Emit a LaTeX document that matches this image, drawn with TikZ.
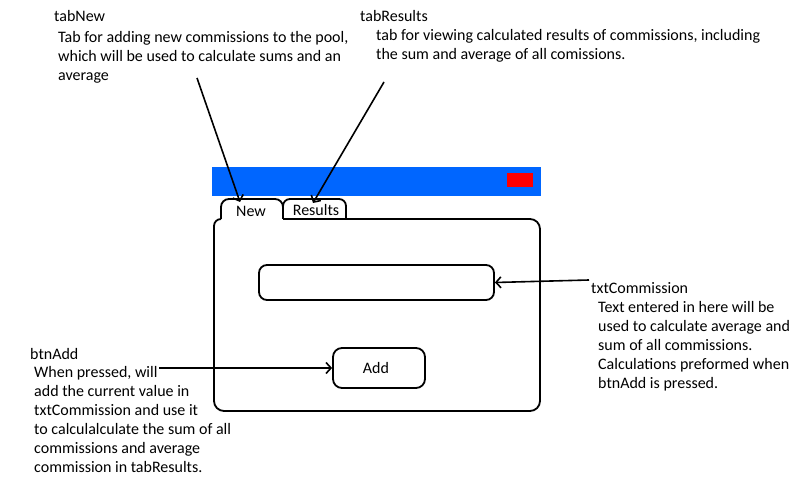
\documentclass[tikz,border=0pt]{standalone}
\usepackage{fontspec}
\setmainfont{Carlito}
\usetikzlibrary{arrows.meta}
\definecolor{barblue}{HTML}{0066FF}
\definecolor{barred}{HTML}{FF0000}
\tikzset{
  txt/.style={inner sep=0pt, align=left, font=\fontsize{16}{19}\selectfont},
  ttl/.style={txt, anchor=base west},
  desc/.style={txt, anchor=north west},
  frame/.style={draw=black, line width=1.8pt},
  pointer/.style={draw=black, line width=1.6pt, -{Straight Barb[length=5pt,width=11pt]}},
}
\begin{document}
\begin{tikzpicture}[x=1pt,y=-1pt]
\useasboundingbox (0,0) rectangle (800,486);
% window bar
\fill[barblue] (212,167) rectangle (541,196);
\fill[barred] (507,173) rectangle (533,187);
% panel
\draw[frame] (221,219) [rounded corners=7pt] -- (214,219) [rounded corners=10pt] -- (214,411) -- (540,411) -- (540,219) -- (283,219);
% active tab
\draw[frame] (221,219) [rounded corners=8pt] -- (221,199) -- (283,199) -- (283,219);
% inactive tab
\draw[frame] (283,219) [rounded corners=7pt] -- (283,199) -- (346,199) -- (346,219);
\node[txt, anchor=center] (tnew) at (251,211) {New};
\node[txt, anchor=center] (tres) at (316,210) {Results};
% text box and button
\node[frame, rounded corners=8pt, minimum width=235pt, minimum height=35pt, inner sep=0pt] (txtbox) at (376.5,282.5) {};
\node[frame, rounded corners=9pt, minimum width=92pt, minimum height=40pt, inner sep=0pt, font=\fontsize{16}{19}\selectfont] (addbtn) at (379,368) {Add\hspace*{6pt}};
% annotations
\node[ttl] (lnew) at (54,22) {tabNew};
\node[desc] (dnew) at (58,31.5) {Tab for adding new commissions to the pool,\\which will be used to calculate sums and an\\average};
\node[ttl] (lres) at (360,22) {tabResults};
\node[desc] (dres) at (376,29.5) {tab for viewing calculated results of commissions, including\\the sum and average of all comissions.};
\node[ttl] (ltxt) at (591,294) {txtCommission};
\node[desc] (dtxt) at (598,301) {Text entered in here will be\\used to calculate average and\\sum of all commissions.\\Calculations preformed when\\btnAdd is pressed.};
\node[ttl] (lbtn) at (30,359) {btnAdd};
\node[desc] (dbtn) at (34,366) {When pressed, will\\add the current value in\\txtCommission and use it\\to calculalculate the sum of all\\commissions and average\\commission in tabResults.};
% connector ends
\coordinate (snew) at (197,78);
\coordinate (enew) at (240,202);
\coordinate (sres) at (384,82);
\coordinate (eres) at (313,203);
\coordinate (stxt) at (589,280);
\coordinate (sbtn) at (159,368);
\draw[pointer] (snew) -- (enew);
\draw[pointer] (sres) -- (eres);
\draw[pointer] (stxt) -- (txtbox.east);
\draw[pointer] (sbtn) -- (addbtn.west);
\end{tikzpicture}
\end{document}
